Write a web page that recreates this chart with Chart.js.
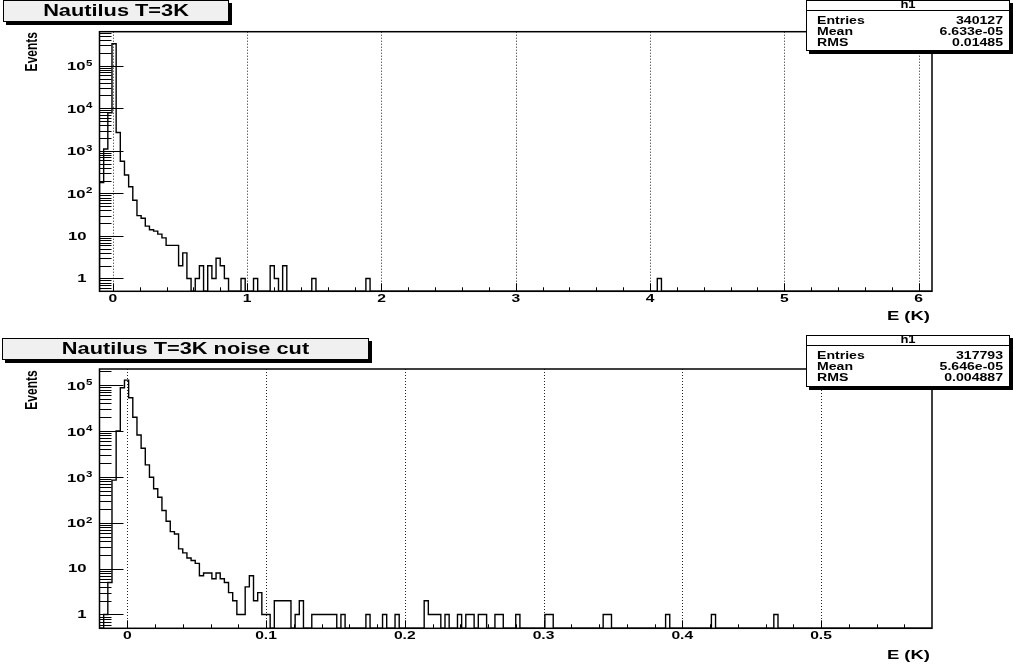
<!DOCTYPE html>
<html>
<head>
<meta charset="utf-8">
<script src="https://cdn.jsdelivr.net/npm/chart.js@4.4.0/dist/chart.umd.min.js"></script>
<style>
    html, body { margin: 0; padding: 0; background: #fff; overflow: hidden; }
    canvas { display: block; }
</style>
</head>
<body>
<canvas id="topChart" width="1013" height="333"></canvas>
<canvas id="bottomChart" width="1013" height="332"></canvas>
<script>
// --- histogram contents (200 bins each) ---
const topBinCounts = [
    180, 1100, 7800, 327000, 2700, 570, 270, 143, 69, 30, 26, 17, 14, 13, 11, 9, 6, 6, 6, 2,
    4, 1, 0, 1, 2, 0, 2, 1, 3, 2, 1, 0, 0, 0, 1, 0, 0, 1, 0, 0,
    0, 2, 1, 0, 2, 0, 0, 0, 0, 0, 0, 1, 0, 0, 0, 0, 0, 0, 0, 0,
    0, 0, 0, 0, 1, 0, 0, 0, 0, 0, 0, 0, 0, 0, 0, 0, 0, 0, 0, 0,
    0, 0, 0, 0, 0, 0, 0, 0, 0, 0, 0, 0, 0, 0, 0, 0, 0, 0, 0, 0,
    0, 0, 0, 0, 0, 0, 0, 0, 0, 0, 0, 0, 0, 0, 0, 0, 0, 0, 0, 0,
    0, 0, 0, 0, 0, 0, 0, 0, 0, 0, 0, 0, 0, 0, 1, 0, 0, 0, 0, 0,
    0, 0, 0, 0, 0, 0, 0, 0, 0, 0, 0, 0, 0, 0, 0, 0, 0, 0, 0, 0,
    0, 0, 0, 0, 0, 0, 0, 0, 0, 0, 0, 0, 0, 0, 0, 0, 0, 0, 0, 0,
    0, 0, 0, 0, 0, 0, 0, 0, 0, 0, 0, 0, 0, 0, 0, 0, 0, 0, 0, 0
];
const bottomBinCounts = [
    0, 1, 5, 850, 10000, 88000, 129000, 53000, 20000, 8200, 4200, 1830, 980, 550, 360, 185, 108, 64, 57, 27,
    22, 17, 15, 13, 7, 8, 8, 6, 8, 6, 5, 3, 2, 1, 1, 4, 7, 2, 3, 1,
    1, 0, 2, 2, 2, 2, 0, 1, 2, 0, 0, 1, 1, 1, 1, 1, 1, 0, 1, 0,
    0, 0, 0, 0, 1, 0, 0, 0, 1, 0, 0, 1, 0, 0, 0, 0, 0, 0, 2, 1,
    1, 1, 0, 1, 0, 0, 1, 0, 1, 1, 0, 1, 1, 0, 0, 1, 1, 0, 0, 0,
    1, 0, 0, 0, 0, 0, 0, 1, 1, 0, 0, 0, 0, 0, 0, 0, 0, 0, 0, 0,
    0, 1, 1, 0, 0, 0, 0, 0, 0, 0, 0, 0, 0, 0, 0, 0, 1, 0, 0, 0,
    0, 0, 0, 0, 0, 0, 0, 1, 0, 0, 0, 0, 0, 0, 0, 0, 0, 0, 0, 0,
    0, 0, 1, 0, 0, 0, 0, 0, 0, 0, 0, 0, 0, 0, 0, 0, 0, 0, 0, 0,
    0, 0, 0, 0, 0, 0, 0, 0, 0, 0, 0, 0, 0, 0, 0, 0, 0, 0, 0, 0
];

const topXTicks = [0, 1, 2, 3, 4, 5, 6];
const topXTickLabels = ['0', '1', '2', '3', '4', '5', '6'];
const bottomXTicks = [0, 0.1, 0.2, 0.3, 0.4, 0.5];
const bottomXTickLabels = ['0', '0.1', '0.2', '0.3', '0.4', '0.5'];
const yTickValues = [1, 10, 100, 1000, 10000, 100000];
const yTickBase = ['1', '10', '10', '10', '10', '10'];
const yTickExp = ['', '', '2', '3', '4', '5'];

const topStats = [['Entries', '340127'], ['Mean', '6.633e-05'], ['RMS', '0.01485']];
const bottomStats = [['Entries', '317793'], ['Mean', '5.646e-05'], ['RMS', '0.004887']];

const FONT = '"Liberation Sans", Arial, Helvetica, sans-serif';

// histogram outline as step points at the bin low edges
function histPoints(counts, xMin, xMax, floor) {
    const n = counts.length;
    const w = (xMax - xMin) / n;
    const pts = [{ x: xMin, y: floor }];
    counts.forEach((c, i) => pts.push({ x: xMin + i * w, y: c > 0 ? c : floor }));
    pts.push({ x: xMax, y: counts[n - 1] > 0 ? counts[n - 1] : floor });
    pts.push({ x: xMax, y: floor });
    return pts;
}

function stretchText(ctx, str, x, y, size, align, sx) {
    ctx.save();
    ctx.font = 'bold ' + size + 'px ' + FONT;
    ctx.textAlign = align;
    ctx.textBaseline = 'middle';
    ctx.fillStyle = '#000';
    ctx.translate(x, y);
    ctx.scale(sx, 1);
    ctx.fillText(str, 0, 0);
    ctx.restore();
}

function paveBox(ctx, x, y, w, h, fill) {
    ctx.fillStyle = '#000';
    ctx.fillRect(x + 3, y + 3, w, h);
    ctx.fillStyle = fill;
    ctx.fillRect(x, y, w, h);
    ctx.strokeStyle = '#000';
    ctx.lineWidth = 1;
    ctx.strokeRect(x + 0.5, y + 0.5, w - 1, h - 1);
}

function rootFramePlugin(opt) {
    return {
        id: 'rootFrame',
        beforeDatasetsDraw(chart) {
            const { ctx, chartArea: a, scales: { x } } = chart;
            ctx.save();
            ctx.strokeStyle = '#222';
            ctx.lineWidth = 1;
            ctx.setLineDash([1, 2]);
            opt.xTicks.forEach(v => {
                const px = Math.round(x.getPixelForValue(v)) + 0.5;
                ctx.beginPath();
                ctx.moveTo(px, a.top);
                ctx.lineTo(px, a.bottom);
                ctx.stroke();
            });
            ctx.restore();
        },
        afterDraw(chart) {
            const { ctx, chartArea: a, scales: { x, y } } = chart;
            ctx.save();
            ctx.strokeStyle = '#000';

            // frame
            ctx.lineWidth = 1.5;
            ctx.strokeRect(a.left, a.top, a.right - a.left, a.bottom - a.top);

            // y ticks (inside the frame)
            ctx.lineWidth = 1;
            ctx.beginPath();
            yTickValues.forEach(v => {
                const py = Math.round(y.getPixelForValue(v)) + 0.5;
                ctx.moveTo(a.left, py);
                ctx.lineTo(a.left + 24, py);
            });
            for (let d = 0.1; d < y.max; d *= 10) {
                for (let m = 2; m <= 9; m++) {
                    const v = m * d;
                    if (v <= y.min || v >= y.max) continue;
                    const py = Math.round(y.getPixelForValue(v)) + 0.5;
                    ctx.moveTo(a.left, py);
                    ctx.lineTo(a.left + 12, py);
                }
            }
            // x ticks
            opt.xTicks.forEach(v => {
                const px = Math.round(x.getPixelForValue(v)) + 0.5;
                ctx.moveTo(px, a.bottom);
                ctx.lineTo(px, a.bottom - 8);
            });
            const k0 = Math.ceil(x.min / opt.minorStep + 1e-6);
            const k1 = Math.floor(x.max / opt.minorStep - 1e-6);
            for (let k = k0; k <= k1; k++) {
                const px = Math.round(x.getPixelForValue(k * opt.minorStep)) + 0.5;
                ctx.moveTo(px, a.bottom);
                ctx.lineTo(px, a.bottom - 4);
            }
            ctx.stroke();

            // tick labels
            opt.xTicks.forEach((v, i) => {
                stretchText(ctx, opt.xLabels[i], x.getPixelForValue(v), a.bottom + opt.labelGap, 11.5, 'center', 1.36);
            });
            yTickValues.forEach((v, i) => {
                const py = y.getPixelForValue(v);
                if (yTickExp[i]) {
                    stretchText(ctx, yTickBase[i], 85.5, py + 1.5, 11.5, 'right', 1.45);
                    stretchText(ctx, yTickExp[i], 86, py - 2.5, 8.5, 'left', 1.35);
                } else {
                    stretchText(ctx, yTickBase[i], 86.5, py + 0.5, 11.5, 'right', 1.45);
                }
            });

            // axis titles
            stretchText(ctx, 'E (K)', 930, a.bottom + opt.xTitleGap, 13, 'right', 1.42);
            ctx.save();
            ctx.font = 'bold 12px ' + FONT;
            ctx.fillStyle = '#000';
            ctx.textAlign = 'center';
            ctx.textBaseline = 'middle';
            ctx.translate(32.5, a.top + opt.yTitleOffset);
            ctx.scale(1.35, 1);
            ctx.rotate(-Math.PI / 2);
            ctx.fillText('Events', 0, 0);
            ctx.restore();

            // title pave
            const t = opt.titleBox;
            paveBox(ctx, t.x, t.y, t.w, t.h, '#f0f0f0');
            stretchText(ctx, opt.title, t.x + t.w / 2, t.y + t.h / 2 + 0.5, 16, 'center', 1.36);

            // stats pave
            const s = opt.statsBox;
            paveBox(ctx, 806, s.y, 204, s.h, '#ffffff');
            ctx.strokeStyle = '#000';
            ctx.lineWidth = 1;
            ctx.beginPath();
            ctx.moveTo(806, s.y + 10.5);
            ctx.lineTo(1010, s.y + 10.5);
            ctx.stroke();
            stretchText(ctx, 'h1', 908, s.y + 5.5, 10, 'center', 1.3);
            opt.stats.forEach((row, i) => {
                const ry = s.y + 20.5 + i * 11.3;
                stretchText(ctx, row[0], 817, ry, 11, 'left', 1.28);
                stretchText(ctx, row[1], 1003, ry, 11, 'right', 1.28);
            });
            ctx.restore();
        }
    };
}

function createHistChart(id, counts, xMin, xMax, yMin, yMax, padding, plugOpt) {
    const ctx = document.getElementById(id).getContext('2d');
    return new Chart(ctx, {
        type: 'line',
        data: {
            datasets: [{
                data: histPoints(counts, xMin, xMax, yMin),
                stepped: true,
                borderColor: '#000',
                borderWidth: 1.4,
                pointRadius: 0,
                fill: false
            }]
        },
        options: {
            responsive: false,
            animation: false,
            layout: { padding: padding },
            plugins: { legend: { display: false }, tooltip: { enabled: false } },
            scales: {
                x: { type: 'linear', min: xMin, max: xMax, display: false },
                y: { type: 'logarithmic', min: yMin, max: yMax, display: false }
            }
        },
        plugins: [rootFramePlugin(plugOpt)]
    });
}

createHistChart('topChart', topBinCounts, -0.1, 6.1, 0.5, 630000,
    { left: 99.5, right: 81, top: 31.7, bottom: 41.7 },
    {
        xTicks: topXTicks, xLabels: topXTickLabels, minorStep: 0.2,
        labelGap: 8, xTitleGap: 25, yTitleOffset: 20,
        title: 'Nautilus T=3K', titleBox: { x: 3, y: 0, w: 226, h: 22 },
        stats: topStats, statsBox: { y: 0, h: 51 }
    });

createHistChart('bottomChart', bottomBinCounts, -0.02, 0.58, 0.5, 225000,
    { left: 99.5, right: 81, top: 36, bottom: 36.7 },
    {
        xTicks: bottomXTicks, xLabels: bottomXTickLabels, minorStep: 0.02,
        labelGap: 8, xTitleGap: 27, yTitleOffset: 21,
        title: 'Nautilus T=3K noise cut', titleBox: { x: 2, y: 5, w: 367, h: 22 },
        stats: bottomStats, statsBox: { y: 2, h: 52 }
    });
</script>
</body>
</html>
